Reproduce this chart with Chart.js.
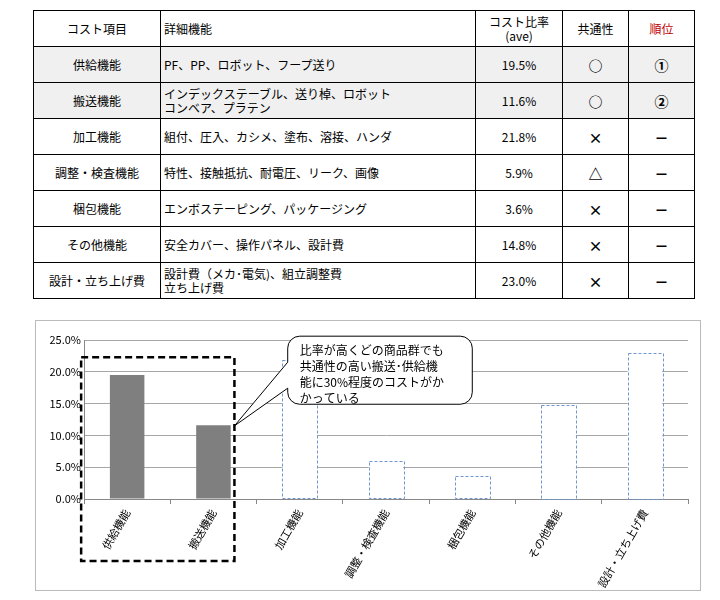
<!DOCTYPE html><html><head><meta charset="utf-8">
<script src="https://cdn.jsdelivr.net/npm/chart.js@4/dist/chart.umd.min.js"></script>
<style>
body{margin:0;background:#fff;font-family:"Noto Sans CJK JP",sans-serif;}
table{position:absolute;left:33px;top:10px;border-collapse:collapse;font-size:12px;}
td{border:1.5px solid #000;height:35px;padding:0 3px;line-height:14px;}
.c{text-align:center}
.s{font-size:14px;font-weight:bold}
.g td{background:#f0f0f0}
#box{position:absolute;left:35px;top:320px;width:664px;height:269px;border:1px solid #bbb;}
#wrap{position:absolute;left:0;top:0;width:664px;height:269px;}
</style></head><body>
<table>
<tr><td class="c" style="width:120px">コスト項目</td><td style="width:308px">詳細機能</td><td class="c" style="width:80px">コスト比率<br>(ave)</td><td class="c" style="width:59px">共通性</td><td class="c" style="width:59px;color:#c00000">順位</td></tr>
<tbody id="tb"></tbody>
</table>
<div id="box"><div id="wrap"><canvas id="c"></canvas></div></div>
<script>
const categories=["供給機能","搬送機能","加工機能","調整・検査機能","梱包機能","その他機能","設計・立ち上げ費"];
const details=["PF、PP、ロボット、フープ送り","インデックステーブル、送り棹、ロボット<br>コンベア、プラテン","組付、圧入、カシメ、塗布、溶接、ハンダ","特性、接触抵抗、耐電圧、リーク、画像","エンボステーピング、パッケージング","安全カバー、操作パネル、設計費","設計費（メカ･電気)、組立調整費<br>立ち上げ費"];
const values=[19.5,11.6,21.8,5.9,3.6,14.8,23.0];
const commonality=["○","○","×","△","×","×","×"];
const ranks=["①","②","－","－","－","－","－"];
const calloutLines=["比率が高くどの商品群でも","共通性の高い搬送･供給機","能に30%程度のコストがか","かっている"];
const tb=document.getElementById('tb');
categories.forEach((c,i)=>{const tr=document.createElement('tr');if(i<2)tr.className='g';
tr.innerHTML=`<td class="c">${c}</td><td>${details[i]}</td><td class="c">${values[i].toFixed(1)}%</td><td class="c s">${commonality[i]}</td><td class="c s">${ranks[i]}</td>`;tb.appendChild(tr);});
const deco={id:'deco',afterDatasetsDraw(ch){
 const ctx=ch.ctx,x=ch.scales.x,y=ch.scales.y,meta=ch.getDatasetMeta(0);
 ctx.save();
 meta.data.forEach((b,i)=>{if(i<2)return;ctx.strokeStyle='#6f95cf';ctx.lineWidth=1;ctx.setLineDash([3,2]);
  const w=b.width;ctx.strokeRect(Math.round(b.x-w/2)+0.5,Math.round(b.y)+0.5,Math.round(w),Math.round(b.base-b.y));});
 const c0=x.getPixelForValue(0),c1=x.getPixelForValue(1);
 const L=c0-46,R=c1+21,T=y.getPixelForValue(22.3),B=ch.height-29;
 ctx.strokeStyle='#000';ctx.lineWidth=2.5;ctx.setLineDash([7,4]);ctx.strokeRect(L,T,R-L,B-T);
 ctx.setLineDash([]);
 const cl=x.getPixelForValue(2)-12,cr=x.getPixelForValue(4),ct=y.getPixelForValue(25.6),cb=y.getPixelForValue(14.9),r=12;
 const tipY=y.getPixelForValue(11.5),by1=ct+26,by2=ct+52;
 ctx.beginPath();ctx.moveTo(cl+r,ct);ctx.lineTo(cr-r,ct);ctx.arcTo(cr,ct,cr,ct+r,r);ctx.lineTo(cr,cb-r);ctx.arcTo(cr,cb,cr-r,cb,r);
 ctx.lineTo(cl+r,cb);ctx.arcTo(cl,cb,cl,cb-r,r);ctx.lineTo(cl,by2);ctx.lineTo(R,tipY);ctx.lineTo(cl,by1);ctx.lineTo(cl,ct+r);ctx.arcTo(cl,ct,cl+r,ct,r);ctx.closePath();
 ctx.fillStyle='#fff';ctx.fill();ctx.strokeStyle='#000';ctx.lineWidth=1;ctx.stroke();
 ctx.fillStyle='#000';ctx.font='12px "Noto Sans CJK JP"';ctx.textBaseline='top';
 calloutLines.forEach((t,i)=>ctx.fillText(t,cl+12,ct+8+i*16));
 ctx.restore();}};
new Chart(document.getElementById('c'),{type:'bar',
 data:{labels:categories,datasets:[{data:values,backgroundColor:values.map((v,i)=>i<2?'#7f7f7f':'#fff'),borderWidth:0,categoryPercentage:0.4,barPercentage:1}]},
 options:{responsive:true,maintainAspectRatio:false,animation:false,events:[],
  layout:{padding:{left:2,right:12,top:19,bottom:0}},
  plugins:{legend:{display:false},tooltip:{enabled:false}},
  scales:{y:{min:0,max:25,ticks:{stepSize:5,callback:v=>v.toFixed(1)+'%',color:'#000',font:{size:11,family:'"Noto Sans CJK JP"'}},
    grid:{color:'#a6a6a6',drawTicks:false},border:{color:'#888'},afterFit(s){s.width=46;}},
   x:{grid:{display:true,offset:true,drawOnChartArea:false,tickLength:5,color:'#888'},border:{color:'#888'},
    ticks:{maxRotation:60,minRotation:60,color:'#000',font:{size:11,family:'"Noto Sans CJK JP"'}},afterFit(s){s.height=91;}}}},
 plugins:[deco]});
</script></body></html>
